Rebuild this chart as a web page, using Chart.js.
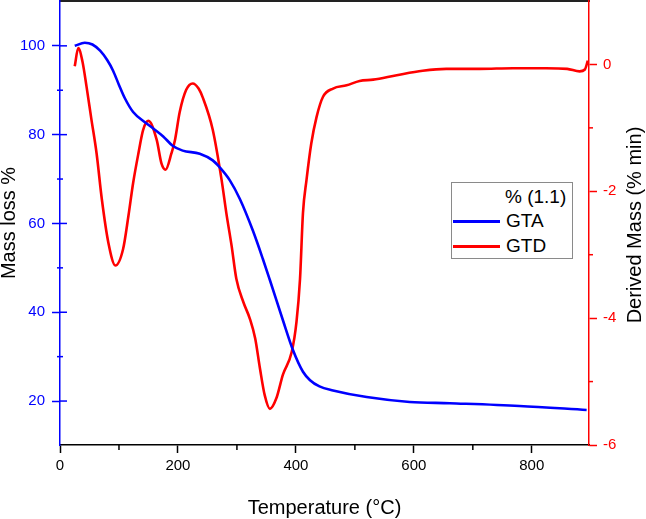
<!DOCTYPE html>
<html lang="en">
<head>
  <meta charset="UTF-8">
  <title>GTA / GTD</title>
  <script src="https://cdn.jsdelivr.net/npm/chart.js"></script>
  <style>
    * { box-sizing: border-box; margin: 0; padding: 0; }
    body { background: #fff; font-family: 'Liberation Sans', Arial, sans-serif; }
    .wrap { position: relative; width: 646px; height: 519px; }
    .legend {
      position: absolute; left: 451px; top: 182px; width: 122px; height: 77px;
      border: 1px solid #8a8a8a; background: #fff; font-size: 19px; color: #000;
    }
    .legend .title { position: absolute; left: 53px; top: 3px; }
    .legend .row { position: absolute; left: 1px; height: 22px; line-height: 22px; }
    .legend .row span.swatch { position: absolute; left: 0; top: 10px; width: 47px; height: 3px; }
    .legend .row span.lbl { position: absolute; left: 53px; top: 0; white-space: nowrap; }
  </style>
</head>
<body>
<div class="wrap">
  <canvas id="tg" width="646" height="519"></canvas>
  <div class="legend">
    <div class="title">% (1.1)</div>
    <div class="row" style="top: 27px;"><span class="swatch" style="background:#0000ff"></span><span class="lbl">GTA</span></div>
    <div class="row" style="top: 52px;"><span class="swatch" style="background:#ff0000"></span><span class="lbl">GTD</span></div>
  </div>
</div>

<script>
  // mass loss curve (left axis)
  const gtaTemp = [25, 42, 55, 68, 80, 90, 100, 110, 124, 144, 158, 175, 191, 208, 237, 259, 271, 288, 305, 327, 344, 356, 378, 395, 412, 424, 440, 463, 520, 593, 661, 779, 893];
  const gtaMass = [100.0, 100.7, 100.3, 98.9, 96.8, 94.4, 91.2, 88.2, 85.1, 82.8, 81.4, 79.6, 77.5, 76.4, 75.7, 74.2, 72.6, 69.7, 65.5, 58.4, 52.0, 47.2, 38.2, 31.5, 26.6, 24.7, 23.3, 22.4, 20.9, 19.8, 19.5, 18.9, 18.0];

  // derivative curve (right axis)
  const gtdTemp = [25, 31, 38, 45, 53, 62, 71, 82, 94, 107, 116, 124, 133, 141, 150, 164, 172, 179, 189, 195, 203, 214, 225, 235, 242, 259, 274, 282, 291, 299, 311, 322, 331, 339, 347, 356, 367, 378, 393, 401, 407, 412, 418, 426, 435, 446, 463, 486, 508, 531, 571, 615, 655, 712, 768, 824, 860, 881, 890, 895];
  const gtdDeriv = [-0.03, 0.26, 0.05, -0.35, -0.85, -1.4, -2.13, -2.81, -3.17, -2.91, -2.39, -1.87, -1.40, -1.03, -0.89, -1.19, -1.56, -1.66, -1.40, -1.19, -0.75, -0.4, -0.3, -0.38, -0.52, -1.03, -1.82, -2.34, -2.86, -3.38, -3.75, -4.01, -4.32, -4.79, -5.21, -5.43, -5.26, -4.89, -4.53, -4.06, -3.38, -2.34, -1.82, -1.25, -0.83, -0.51, -0.38, -0.33, -0.26, -0.24, -0.17, -0.1, -0.07, -0.07, -0.06, -0.06, -0.07, -0.11, -0.08, 0.06];

  const xTicks = [0, 200, 400, 600, 800];
  const xMinor = [100, 300, 500, 700];
  const massTicks = [20, 40, 60, 80, 100];
  const massMinor = [30, 50, 70, 90];
  const derivTicks = [-6, -4, -2, 0];
  const derivMinor = [-5, -3, -1];

  const FONT = "'Liberation Sans', Arial, sans-serif";
  const BLUE = '#0000ff';
  const RED = '#ff0000';

  const toPoints = (xs, ys) => xs.map((x, i) => ({ x: x, y: ys[i] }));

  // the plot runs right up to the top edge, so drop the label padding of the side axes
  const noPad = width => s => { s.width = width; s.paddingTop = 0; s.paddingBottom = 0; };

  // minor ticks + right axis title (title reads bottom-to-top like the left one)
  const extras = {
    id: 'extras',
    afterDraw(chart) {
      const ctx = chart.ctx;
      const { x, y, y1 } = chart.scales;
      ctx.save();
      ctx.lineWidth = 1.5;

      ctx.strokeStyle = '#000';
      xMinor.forEach(v => {
        const px = x.getPixelForValue(v);
        ctx.beginPath(); ctx.moveTo(px, x.top); ctx.lineTo(px, x.top + 5); ctx.stroke();
      });

      ctx.strokeStyle = BLUE;
      massMinor.forEach(v => {
        const py = y.getPixelForValue(v);
        ctx.beginPath(); ctx.moveTo(y.right - 3, py); ctx.lineTo(y.right + 3, py); ctx.stroke();
      });
      massTicks.forEach(v => {
        const py = y.getPixelForValue(v);
        ctx.beginPath(); ctx.moveTo(y.right, py); ctx.lineTo(y.right + 7, py); ctx.stroke();
      });

      ctx.strokeStyle = RED;
      derivMinor.forEach(v => {
        const py = y1.getPixelForValue(v);
        ctx.beginPath(); ctx.moveTo(y1.left, py); ctx.lineTo(y1.left + 4, py); ctx.stroke();
      });

      ctx.fillStyle = '#000';
      ctx.font = '20px ' + FONT;
      ctx.textAlign = 'center';
      ctx.textBaseline = 'middle';
      ctx.translate(635, 225);
      ctx.rotate(-Math.PI / 2);
      ctx.fillText('Derived Mass (% min)', 0, 0);
      ctx.restore();
    }
  };

  new Chart(document.getElementById('tg'), {
    type: 'line',
    data: {
      datasets: [
        {
          label: 'GTA',
          data: toPoints(gtaTemp, gtaMass),
          yAxisID: 'y',
          borderColor: BLUE,
          borderWidth: 2.6,
          pointRadius: 0,
          cubicInterpolationMode: 'monotone'
        },
        {
          label: 'GTD',
          data: toPoints(gtdTemp, gtdDeriv),
          yAxisID: 'y1',
          borderColor: RED,
          borderWidth: 2.6,
          pointRadius: 0,
          cubicInterpolationMode: 'monotone'
        }
      ]
    },
    options: {
      responsive: false,
      animation: false,
      layout: { padding: { top: 1 } },
      plugins: { legend: { display: false }, tooltip: { enabled: false } },
      scales: {
        x: {
          type: 'linear',
          position: 'bottom',
          min: 0,
          max: 897,
          afterBuildTicks: s => { s.ticks = xTicks.map(v => ({ value: v })); },
          afterFit: s => { s.height = 74; },
          ticks: { color: '#000', font: { family: FONT, size: 15 }, padding: 4 },
          grid: { drawOnChartArea: false, color: '#000', tickLength: 8, tickWidth: 1.5 },
          border: { color: '#000', width: 1.5 },
          title: {
            display: true,
            text: 'Temperature (°C)',
            color: '#000',
            font: { family: FONT, size: 20, lineHeight: 1 },
            padding: { top: 0, bottom: 1 }
          }
        },
        x2: {
          type: 'linear',
          position: 'top',
          min: 0,
          max: 897,
          afterFit: s => { s.height = 0; },
          ticks: { display: false },
          grid: { display: false, drawTicks: false },
          border: { color: '#222', width: 2 }
        },
        y: {
          type: 'linear',
          position: 'left',
          min: 10.1,
          max: 110.1,
          afterBuildTicks: s => { s.ticks = massTicks.map(v => ({ value: v })); },
          afterFit: noPad(60),
          ticks: { color: BLUE, font: { family: FONT, size: 15 }, padding: 7 },
          grid: { drawOnChartArea: false, color: BLUE, tickLength: 8, tickWidth: 1.5 },
          border: { color: BLUE, width: 1.5 },
          title: {
            display: true,
            text: 'Mass loss %',
            color: '#000',
            font: { family: FONT, size: 20, lineHeight: 1 },
            padding: { top: -1, bottom: 0 }
          }
        },
        y1: {
          type: 'linear',
          position: 'right',
          min: -6,
          max: 1,
          afterBuildTicks: s => { s.ticks = derivTicks.map(v => ({ value: v })); },
          afterFit: noPad(57),
          ticks: { color: RED, font: { family: FONT, size: 15 }, padding: 6 },
          grid: { drawOnChartArea: false, color: RED, tickLength: 8, tickWidth: 1.5 },
          border: { color: RED, width: 1.5 }
        }
      }
    },
    plugins: [extras]
  });
</script>
</body>
</html>
